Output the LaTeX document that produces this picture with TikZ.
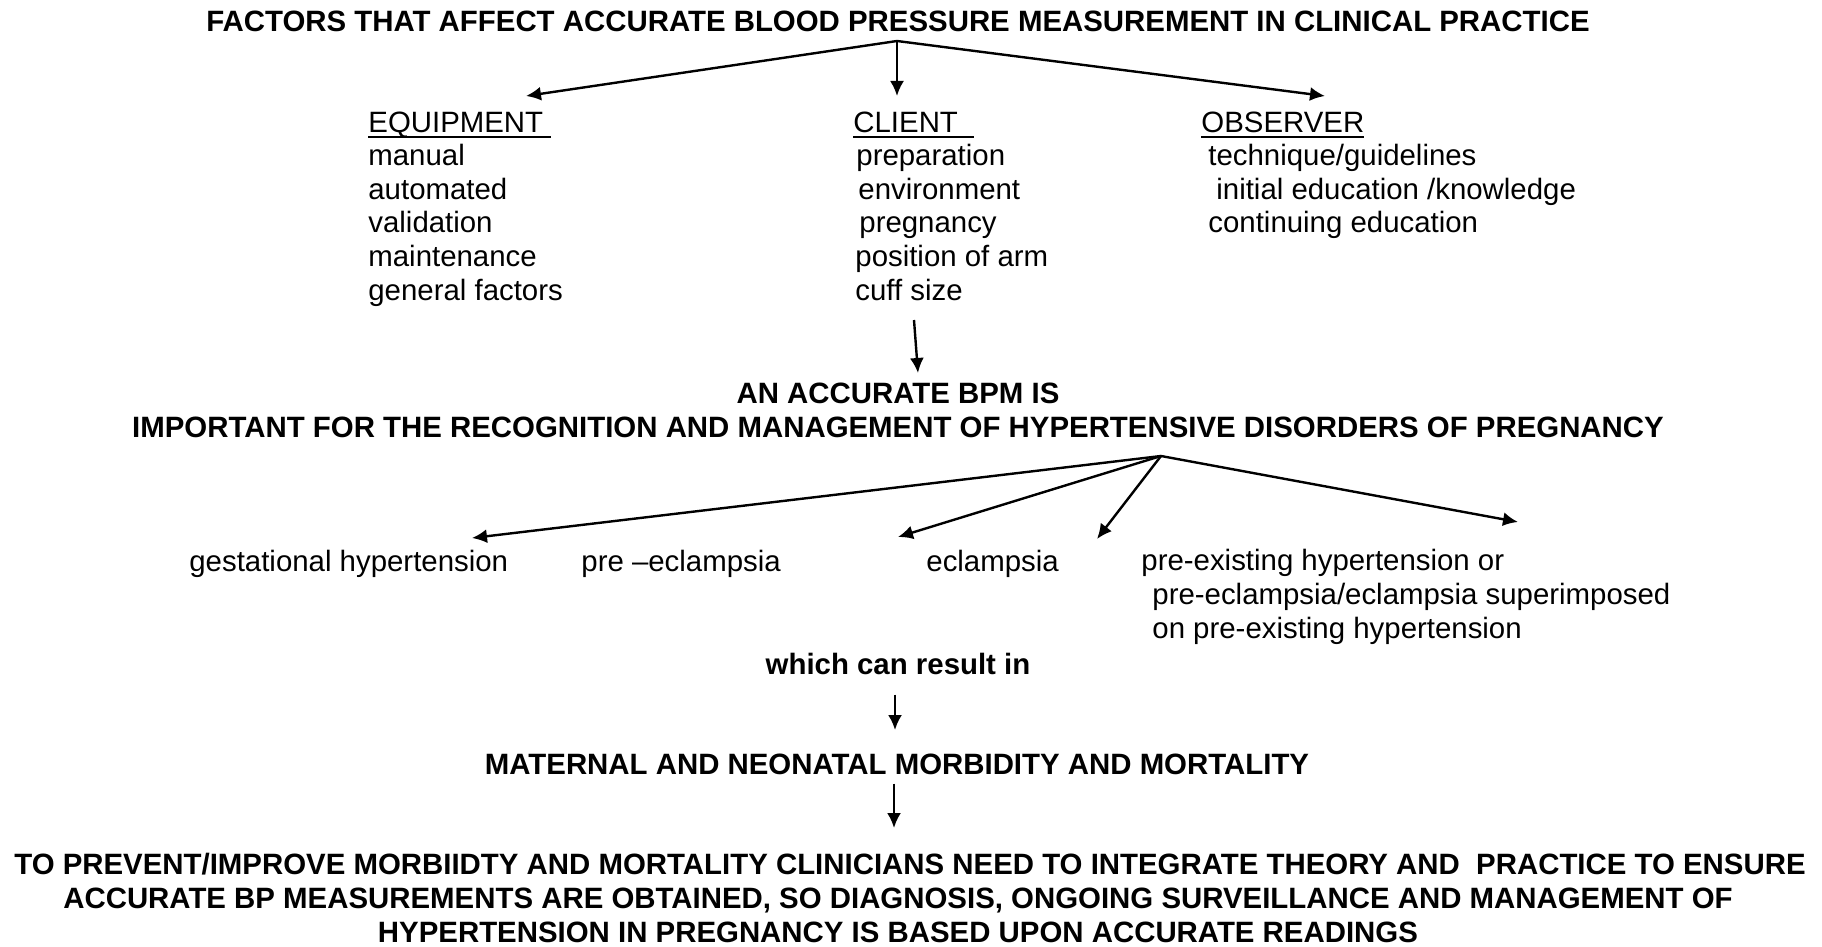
\documentclass[tikz,border=0pt]{standalone}
\usepackage{fontspec}
\setmainfont{Liberation Sans}
\usetikzlibrary{arrows.meta,positioning}

\newcommand{\grouptitle}[1]{\setbox0\hbox{#1}\rlap{\rule[-2.8pt]{\wd0}{1pt}}\box0}

\tikzset{
  bold/.style={inner sep=0pt, align=center, font=\fontsize{14.7}{16.8}\selectfont\bfseries},
  plain/.style={inner sep=0pt, align=left, font=\fontsize{14.7}{16.8}\selectfont},
  arrow/.style={-{Latex[length=7.5pt,width=7pt]}, line width=1.2pt}
}

\begin{document}
\begin{tikzpicture}[x=0.5pt, y=-0.5pt]
        \useasboundingbox (0,0) rectangle (1822,947);
        % title and the three groups of factors (a node's base is its last line)
        \node[bold, anchor=base] (factors) at (898,32) {FACTORS THAT AFFECT ACCURATE BLOOD PRESSURE MEASUREMENT IN CLINICAL PRACTICE};
        \node[plain, anchor=base west] (equipment) at (368,300) {\grouptitle{EQUIPMENT\ }\\manual\\automated\\validation\\maintenance\\general factors};
        \node[plain, anchor=base west] (client) at (853,300) {\grouptitle{CLIENT\ \ }\\\hspace*{1.5pt}preparation\\\hspace*{2.5pt}environment\\\hspace*{3pt}pregnancy\\\hspace*{1pt}position of arm\\\hspace*{1pt}cuff size};
        \node[plain, anchor=base west] (observer) at (1201,233) {\grouptitle{OBSERVER}\\\hspace*{3.5pt}technique/guidelines\\\hspace*{7.5pt}initial education /knowledge\\\hspace*{3.5pt}continuing education};
        \coordinate (fork1) at (897,41);
        \coordinate (tipE) at (526,96);
        \coordinate (tipC) at (897,96);
        \coordinate (tipO) at (1325,96);
        \draw[arrow] (fork1) -- (tipE);
        \draw[arrow] (fork1) -- (tipC);
        \draw[arrow] (fork1) -- (tipO);
        % why it matters
        \node[bold, anchor=base] (bpm) at (898,437) {AN ACCURATE BPM IS\\IMPORTANT FOR THE RECOGNITION AND MANAGEMENT OF HYPERTENSIVE DISORDERS OF PREGNANCY};
        \coordinate (cuffend) at (914,320);
        \coordinate (tipB) at (918,373);
        \draw[arrow] (cuffend) -- (tipB);
        % the disorders
        \node[plain, anchor=base west] (gest) at (189,571) {gestational hypertension};
        \node[plain, anchor=base west] (preecl) at (581,571) {pre –eclampsia};
        \node[plain, anchor=base west] (ecl) at (926,571) {eclampsia};
        \node[plain, anchor=base west] (preex) at (1141,638) {pre-existing hypertension or\\\hspace*{5.5pt}pre-eclampsia/eclampsia superimposed\\\hspace*{5.5pt}on pre-existing hypertension};
        \coordinate (fork2) at (1161,456);
        \coordinate (tipG) at (472,538);
        \coordinate (tipP) at (898,537);
        \coordinate (tipL) at (1097,539);
        \coordinate (tipX) at (1518,522);
        \draw[arrow] (fork2) -- (tipG);
        \draw[arrow] (fork2) -- (tipP);
        \draw[arrow] (fork2) -- (tipL);
        \draw[arrow] (fork2) -- (tipX);
        % outcome
        \node[bold, anchor=base] (result) at (898,674) {which can result in};
        \node[bold, anchor=base] (morb) at (897,774) {MATERNAL AND NEONATAL MORBIDITY AND MORTALITY};
        \node[bold, anchor=base] (prevent) at (898,942) {\hspace*{12pt}TO PREVENT/IMPROVE MORBIIDTY AND MORTALITY CLINICIANS NEED TO INTEGRATE THEORY AND\ \ PRACTICE TO ENSURE\\ACCURATE BP MEASUREMENTS ARE OBTAINED, SO DIAGNOSIS, ONGOING SURVEILLANCE AND MANAGEMENT OF\\HYPERTENSION IN PREGNANCY IS BASED UPON ACCURATE READINGS};
        \coordinate (tipR) at (895,730);
        \coordinate (tipM) at (894,828);
        \draw[arrow] (result.south -| tipR) ++(0,20) -- (tipR);
        \draw[arrow] (morb.south -| tipM) ++(0,9) -- (tipM);
    \end{tikzpicture}
\end{document}
